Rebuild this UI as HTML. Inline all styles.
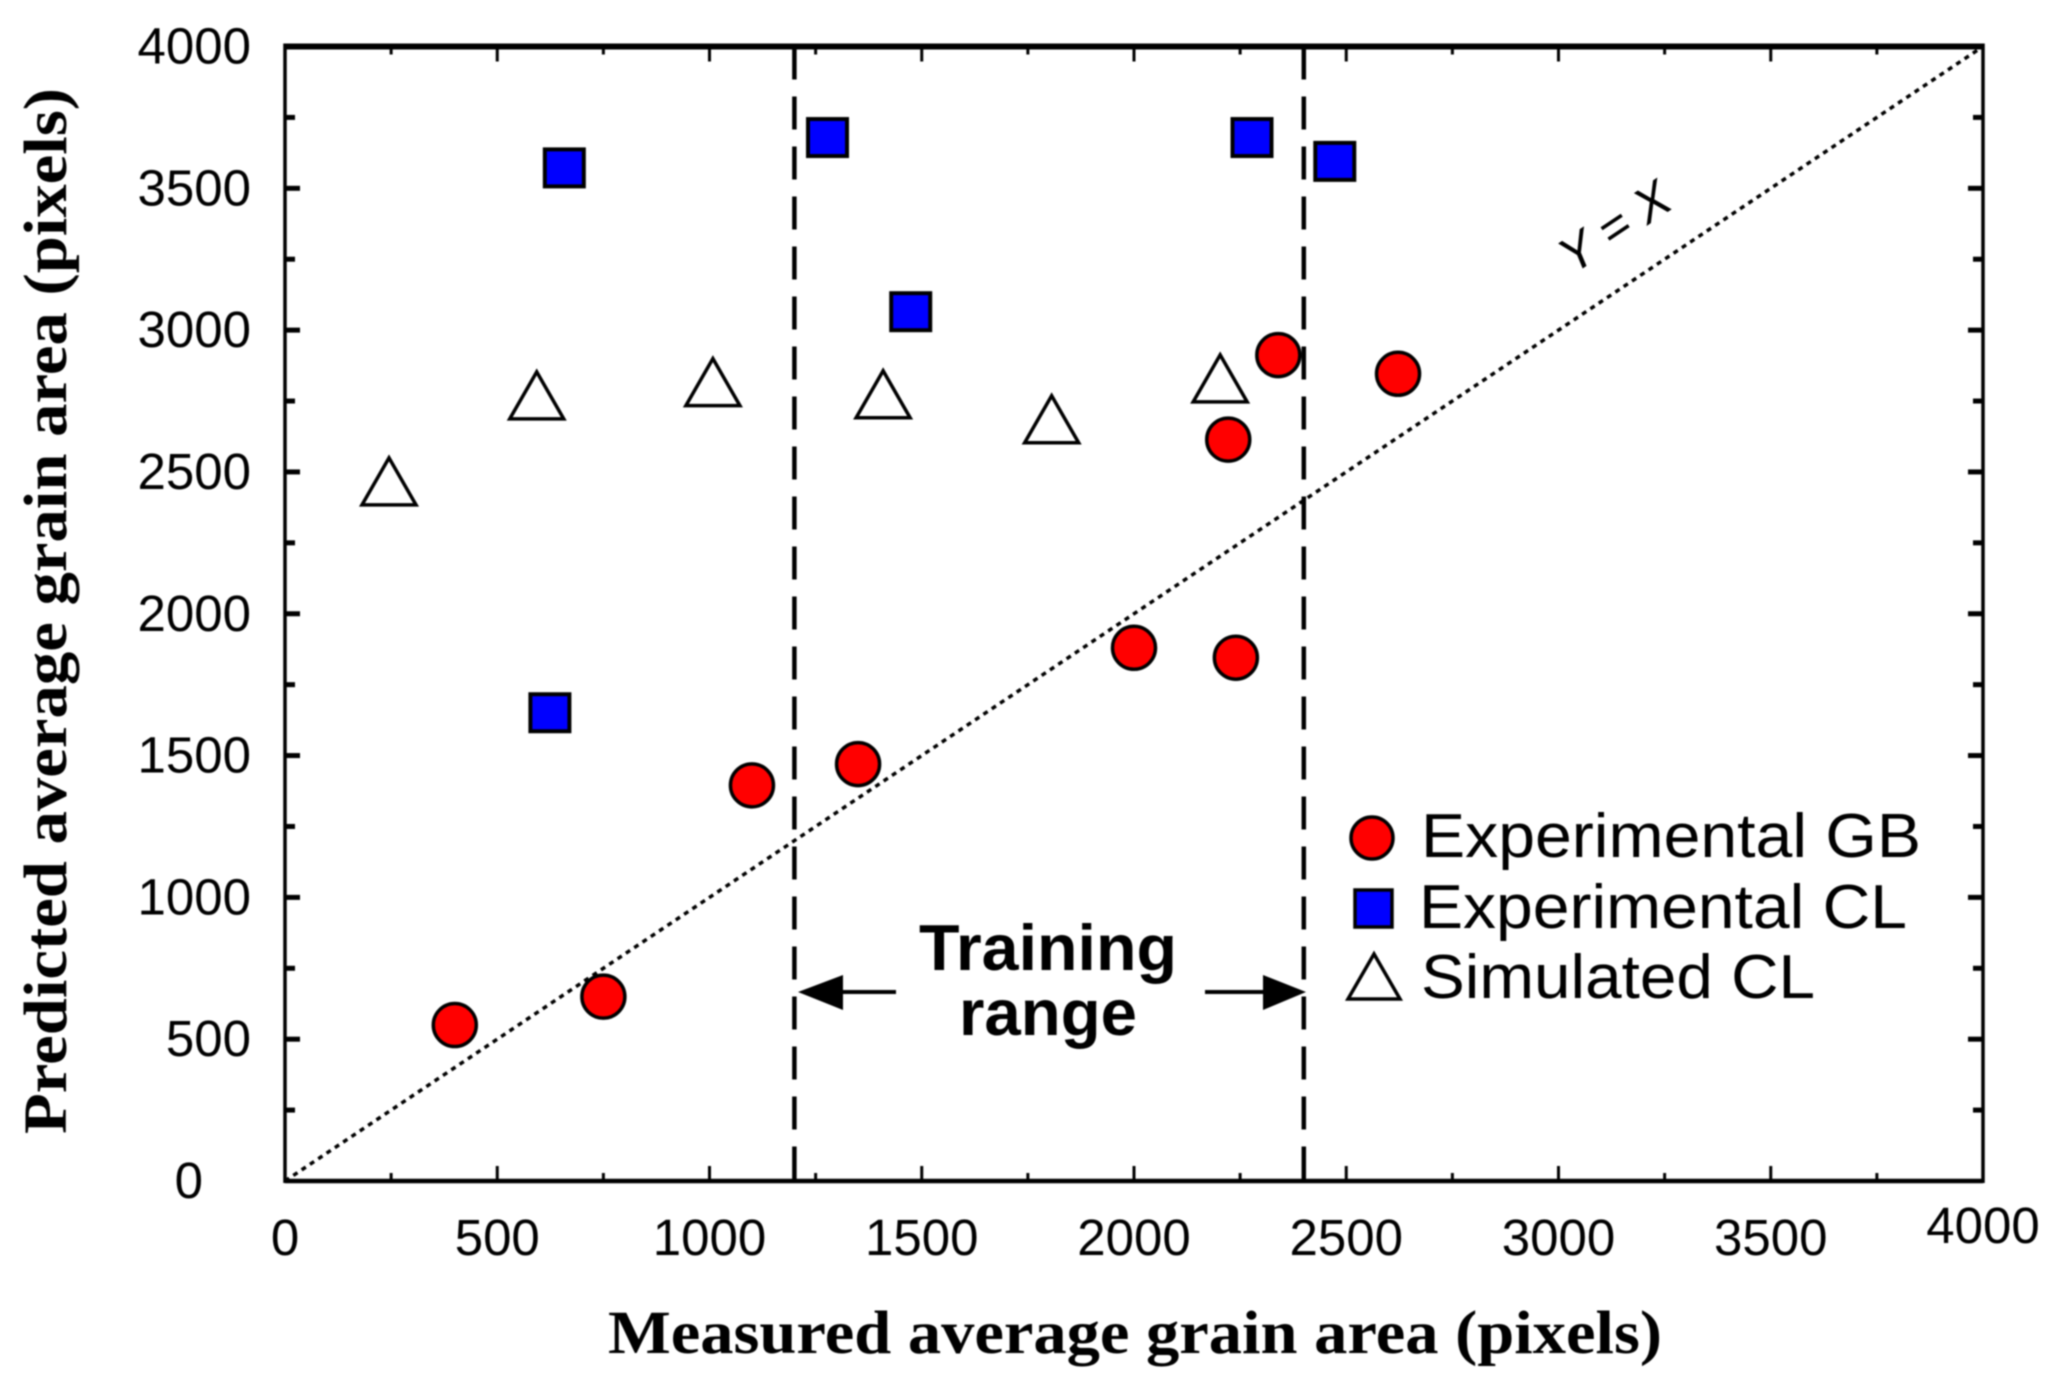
<!DOCTYPE html>
<html lang="en">
<head>
<meta charset="utf-8">
<title>Predicted vs measured average grain area</title>
<style>
html,body{margin:0;padding:0;background:#fff;width:2064px;height:1388px;overflow:hidden}
svg{display:block;filter:blur(0.7px)}
.tick-label{font-family:"Liberation Sans",sans-serif;font-size:51px;fill:#000}
.axis-title{font-family:"Liberation Serif",serif;font-weight:bold;font-size:61px;fill:#000}
.legend-text{font-family:"Liberation Sans",sans-serif;font-size:62px;fill:#000}
.note{font-family:"Liberation Sans",sans-serif;font-weight:bold;font-size:65px;fill:#000}
</style>
</head>
<body>
<svg id="chart" xmlns="http://www.w3.org/2000/svg" width="2064" height="1388" viewBox="0 0 2064 1388">
  <rect width="2064" height="1388" fill="#fff"/>
  <g id="ticks"></g>
  <g id="tick-labels"></g>
  <g id="guides"></g>
  <g id="frame"></g>
  <text class="axis-title" x="1135" y="1353" text-anchor="middle" textLength="1054" lengthAdjust="spacingAndGlyphs">Measured average grain area (pixels)</text>
  <text class="axis-title" transform="translate(66 611) rotate(-90)" text-anchor="middle" textLength="1046" lengthAdjust="spacingAndGlyphs">Predicted average grain area (pixels)</text>
  <text transform="translate(1624 241) rotate(-33.7)" text-anchor="middle" font-family="Liberation Sans, sans-serif" font-style="italic" font-size="50" fill="#000">Y = X</text>
  <g>
    <text class="note" x="1048" y="970" text-anchor="middle" textLength="258" lengthAdjust="spacingAndGlyphs">Training</text>
    <text class="note" x="1048" y="1035" text-anchor="middle" textLength="178" lengthAdjust="spacingAndGlyphs">range</text>
    <line x1="840" y1="992" x2="896" y2="992" stroke="#000" stroke-width="4"/>
    <polygon points="798,992 843,975 843,1010" fill="#000"/>
    <line x1="1205" y1="992" x2="1265" y2="992" stroke="#000" stroke-width="4"/>
    <polygon points="1306,992 1263,975 1263,1010" fill="#000"/>
  </g>
  <g id="marks"></g>
  <g>
    <g>
      <circle cx="1372" cy="838" r="21" fill="#ff0000" stroke="#000" stroke-width="3.5"/>
      <text class="legend-text" x="1421" y="857" textLength="500" lengthAdjust="spacingAndGlyphs">Experimental GB</text>
    </g>
    <g>
      <rect x="1355" y="890" width="37" height="37" fill="#0000ff" stroke="#000" stroke-width="3.5"/>
      <text class="legend-text" x="1419" y="928" textLength="488" lengthAdjust="spacingAndGlyphs">Experimental CL</text>
    </g>
    <g>
      <polygon points="1374,954 1348,999 1400,999" fill="#fff" stroke="#000" stroke-width="3.5"/>
      <text class="legend-text" x="1421" y="998" textLength="394" lengthAdjust="spacingAndGlyphs">Simulated CL</text>
    </g>
  </g>
</svg>
<script>
const gbX = [400, 750, 1100, 1350, 2000, 2240, 2222, 2340, 2622];
const gbY = [550, 650, 1395, 1470, 1880, 1845, 2614, 2912, 2846];
const clX = [658, 1278, 1474, 2278, 2473, 624];
const clY = [3572, 3679, 3065, 3679, 3595, 1651];
const simX = [245, 593, 1008, 1409, 1806, 2203];
const simY = [2465, 2768, 2815, 2772, 2684, 2828];
const tickLabels = [0, 500, 1000, 1500, 2000, 2500, 3000, 3500, 4000];
const minorTicks = [250, 750, 1250, 1750, 2250, 2750, 3250, 3750];
const trainingRange = [1200, 2400];
const identityLine = [0, 4000];

const NS = 'http://www.w3.org/2000/svg';
const L = 285, R = 1983, T = 46.5, B = 1181;
const px = v => L + (v / 4000) * (R - L);
const py = v => B - (v / 4000) * (B - T);
function mk(tag, parent, attrs) {
  const el = document.createElementNS(NS, tag);
  for (const k in attrs) el.setAttribute(k, attrs[k]);
  parent.appendChild(el);
  return el;
}
const ticksG = document.getElementById('ticks');
const labelsG = document.getElementById('tick-labels');
const guidesG = document.getElementById('guides');
const frameG = document.getElementById('frame');
const marksG = document.getElementById('marks');

function drawTicks(values, lenV, lenH, thickV, thickH) {
  values.forEach(v => {
    if (v === 0 || v === 4000) return;
    [[px(v), B, px(v), B - lenV], [px(v), T, px(v), T + lenV]].forEach(c => {
      const t = mk('line', ticksG, {x1: c[0], y1: c[1], x2: c[2], y2: c[3], stroke: '#000', 'stroke-width': thickV});
      
      
    });
    [[L, py(v), L + lenH, py(v)], [R, py(v), R - lenH, py(v)]].forEach(c => {
      const t = mk('line', ticksG, {x1: c[0], y1: c[1], x2: c[2], y2: c[3], stroke: '#000', 'stroke-width': thickH});
      
      
    });
  });
}
drawTicks(tickLabels, 15, 15, 3, 5);
drawTicks(minorTicks, 8, 10, 3, 5);

tickLabels.forEach(v => {
  const yl = mk('text', labelsG, {class: 'tick-label', x: v === 0 ? 203 : 251, y: py(v) + 17, 'text-anchor': 'end'});
  
  
  yl.textContent = v;
  const xl = mk('text', labelsG, {class: 'tick-label', x: px(v), y: v === 4000 ? 1243 : 1255, 'text-anchor': 'middle'});
  
  
  xl.textContent = v;
});

const diag = mk('line', guidesG, {x1: px(identityLine[0]), y1: py(identityLine[0]), x2: px(identityLine[1]), y2: py(identityLine[1]), stroke: '#000', 'stroke-width': 3.5, 'stroke-dasharray': '5 5'});



trainingRange.forEach(v => {
  const d = mk('line', guidesG, {x1: px(v), y1: T, x2: px(v), y2: B, stroke: '#000', 'stroke-width': 4.5, 'stroke-dasharray': '33 17'});
  
  
});

[[L, T, R, T, 6], [L, B, R, B, 4.5], [L, T - 3, L, B + 2, 3.5], [R, T - 3, R, B + 2, 3.5]].forEach(c => {
  const f = mk('line', frameG, {x1: c[0], y1: c[1], x2: c[2], y2: c[3], stroke: '#000', 'stroke-width': c[4]});
  
  
});

simX.forEach((v, i) => {
  const cx = px(v), cy = py(simY[i]);
  const p = mk('polygon', marksG, {points: [cx, cy - 24, cx - 27, cy + 23, cx + 27, cy + 23].join(' '), fill: '#fff', stroke: '#000', 'stroke-width': 3.5});
  
  
});
clX.forEach((v, i) => {
  const r = mk('rect', marksG, {x: px(v) - 19.5, y: py(clY[i]) - 18.5, width: 39, height: 37, fill: '#0000ff', stroke: '#000', 'stroke-width': 4});
  
  
});
gbX.forEach((v, i) => {
  const c = mk('circle', marksG, {cx: px(v), cy: py(gbY[i]), r: 21.5, fill: '#ff0000', stroke: '#000', 'stroke-width': 3.5});
  
  
});
</script>
</body>
</html>
